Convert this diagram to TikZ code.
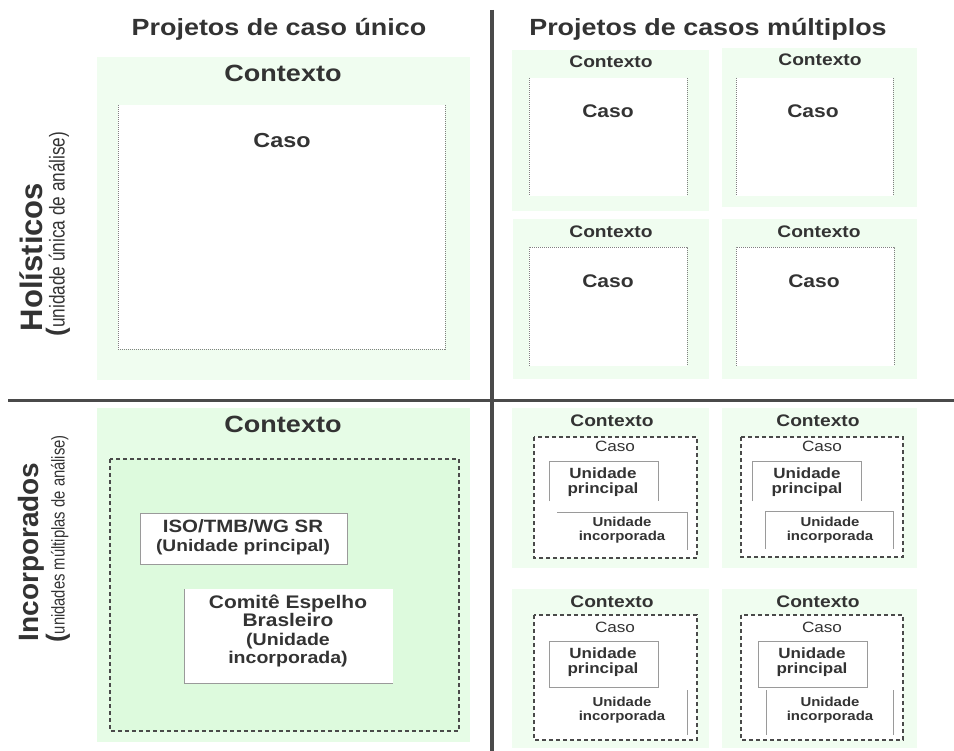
\documentclass[tikz,border=0pt]{standalone}
\usepackage{fontspec}
\setmainfont{Liberation Sans}[FakeStretch=1.15]
\newfontfamily\sidefont{Liberation Sans}
\newfontfamily\narrowfont{Liberation Sans}[FakeStretch=0.8]
\newcommand{\fsz}[2]{\fontsize{#1}{#2}\selectfont}
\definecolor{txtgray}{HTML}{333333}
\definecolor{ctxgreen}{HTML}{F0FDF0}
\definecolor{ctxgreendark}{HTML}{E6FCE6}
\definecolor{casegreen}{HTML}{DDFADD}
\definecolor{divgray}{HTML}{4A4A4A}
\definecolor{linegray}{HTML}{9A9A9A}
\begin{document}
\begin{tikzpicture}[x=1pt,y=-1pt,
    lbl/.style={inner sep=0pt, text=txtgray, font=\bfseries, anchor=base},
    mlbl/.style={inner sep=0pt, text=txtgray, align=center},
    unitmain/.style={mlbl, font=\bfseries\fsz{14.8}{14.5}},
    unitemb/.style={mlbl, font=\bfseries\fsz{13}{13.8}},
    sidelbl/.style={inner sep=0pt, text=txtgray, rotate=90},
    casedot/.style={draw=gray, line width=0.7, dash pattern=on 1pt off 1pt},
    casedash/.style={draw=divgray, line width=1.1, dash pattern=on 4pt off 3pt},
    unitline/.style={draw=linegray, line width=1},
    divider/.style={draw=divgray}]

\useasboundingbox (0,0) rectangle (954,751);

% Column headers:
\node[lbl] (hsingle) at (279,36) {\fsz{23.4}{28}Projetos de caso único};
\node[lbl] (hmulti) at (708,36) {\fsz{23.4}{28}Projetos de casos múltiplos};

% Row headers:
\node[sidelbl] (rholist) at (31,257) {\sidefont\bfseries\fsz{31}{34}Holísticos};
\node[sidelbl] (rholistsub) at (58,234) {{\sidefont\bfseries\fsz{26}{28}(}\narrowfont\fsz{21.5}{24}unidade única de análise)};
\node[sidelbl] (rincorp) at (31,552) {\sidefont\bfseries\fsz{28}{32}Incorporados};
\node[sidelbl] (rincorpsub) at (58,539) {{\sidefont\bfseries\fsz{26}{28}(}\narrowfont\fsz{18.5}{22}unidades múltiplas de análise)};

% Top left: single holistic case
\fill[ctxgreen] (97,57) rectangle (470,380);
\fill[white] (118,105) rectangle (445,349);
\draw[casedot] (118,105) -- (118,349) -- (445,349) -- (445,105);
\node[lbl] (ctxA) at (283,82) {\fsz{23.5}{28}Contexto};
\node[lbl] (casoA) at (282,148) {\fsz{20.3}{24}Caso};

% Top right: multiple holistic cases
\fill[ctxgreen] (512,50) rectangle (709,211);
\fill[white] (529,78) rectangle (687,196);
\draw[casedot] (529,78) -- (529,196) (687,78) -- (687,196);
\node[lbl] (ctxB) at (611,68) {\fsz{16.7}{20}Contexto};
\node[lbl] (casoB) at (608,118) {\fsz{18.3}{22}Caso};

\fill[ctxgreen] (722,48) rectangle (917,207);
\fill[white] (736,78) rectangle (893,196);
\draw[casedot] (736,78) -- (736,196) (893,78) -- (893,196);
\node[lbl] (ctxC) at (820,66) {\fsz{16.7}{20}Contexto};
\node[lbl] (casoC) at (813,118) {\fsz{18.3}{22}Caso};

\fill[ctxgreen] (513,219) rectangle (709,379);
\fill[white] (529,247) rectangle (687,366);
\draw[casedot] (529,366) -- (529,247) -- (687,247) -- (687,366);
\node[lbl] (ctxD) at (611,238) {\fsz{16.7}{20}Contexto};
\node[lbl] (casoD) at (608,288) {\fsz{18.3}{22}Caso};

\fill[ctxgreen] (722,219) rectangle (917,379);
\fill[white] (736,247) rectangle (894,366);
\draw[casedot] (736,366) -- (736,247) -- (894,247) -- (894,366);
\node[lbl] (ctxE) at (819,238) {\fsz{16.7}{20}Contexto};
\node[lbl] (casoE) at (814,288) {\fsz{18.3}{22}Caso};

% Bottom left: single embedded case
\fill[ctxgreendark] (97,408) rectangle (470,742);
\path[casedash, fill=casegreen] (110,459) rectangle (459,731);
\node[lbl] (ctxF) at (283,432) {\fsz{23.5}{28}Contexto};
\path[unitline, fill=white] (140,513) rectangle (347,564);
\node[mlbl, font=\bfseries\fsz{17.8}{19}] (isounit) at (243,537.5) {ISO/TMB/WG SR\\\fsz{16.7}{19}(Unidade principal)};
\fill[white] (184,589) rectangle (393,683);
\draw[unitline] (184,589) -- (184,683) -- (393,683);
\node[mlbl, font=\bfseries\fsz{18.2}{18.5}] (mirror) at (288,631) {Comitê Espelho\\Brasleiro\\\fsz{17}{18.5}(Unidade\\\fsz{17}{18.5}incorporada)};

% Bottom right: multiple embedded cases
\fill[ctxgreen] (512,408) rectangle (709,568);
\path[casedash, fill=white] (534,437) rectangle (697,558);
\draw[unitline] (549,501) -- (549,462) -- (658,462) -- (658,501);
\draw[unitline] (557,512) -- (687,512) -- (687,550);
\node[lbl] (ctxG) at (612,427) {\fsz{16.7}{20}Contexto};
\node[lbl, font=\mdseries] (casoG) at (615,452) {\fsz{14.9}{18}Caso};
\node[unitmain] (mainG) at (603,482) {Unidade\\principal};
\node[unitemb] (embG) at (622,530.5) {Unidade\\incorporada};

\fill[ctxgreen] (722,408) rectangle (917,568);
\path[casedash, fill=white] (741,437) rectangle (903,557);
\draw[unitline] (752,501) -- (752,462) -- (861,462) -- (861,501);
\draw[unitline] (765,549) -- (765,511) -- (893,511) -- (893,549);
\node[lbl] (ctxH) at (818,427) {\fsz{16.7}{20}Contexto};
\node[lbl, font=\mdseries] (casoH) at (822,452) {\fsz{14.9}{18}Caso};
\node[unitmain] (mainH) at (807,482) {Unidade\\principal};
\node[unitemb] (embH) at (830,530.5) {Unidade\\incorporada};

\fill[ctxgreen] (512,589) rectangle (709,748);
\path[casedash, fill=white] (534,615) rectangle (697,740);
\draw[unitline] (549,641) rectangle (658,687);
\draw[unitline] (687,690) -- (687,735);
\node[lbl] (ctxI) at (612,607) {\fsz{16.7}{20}Contexto};
\node[lbl, font=\mdseries] (casoI) at (615,632) {\fsz{14.9}{18}Caso};
\node[unitmain] (mainI) at (603,662) {Unidade\\principal};
\node[unitemb] (embI) at (622,710.5) {Unidade\\incorporada};

\fill[ctxgreen] (722,589) rectangle (917,748);
\path[casedash, fill=white] (741,615) rectangle (903,740);
\draw[unitline] (758,641) rectangle (867,687);
\draw[unitline] (766,690) -- (766,735) (893,690) -- (893,735);
\node[lbl] (ctxJ) at (818,607) {\fsz{16.7}{20}Contexto};
\node[lbl, font=\mdseries] (casoJ) at (822,632) {\fsz{14.9}{18}Caso};
\node[unitmain] (mainJ) at (812,662) {Unidade\\principal};
\node[unitemb] (embJ) at (830,710.5) {Unidade\\incorporada};

% Dividers:
\draw[divider, line width=4] (492,10) -- (492,751);
\draw[divider, line width=3.5] (8,400.5) -- (954,400.5);

\end{tikzpicture}
\end{document}
